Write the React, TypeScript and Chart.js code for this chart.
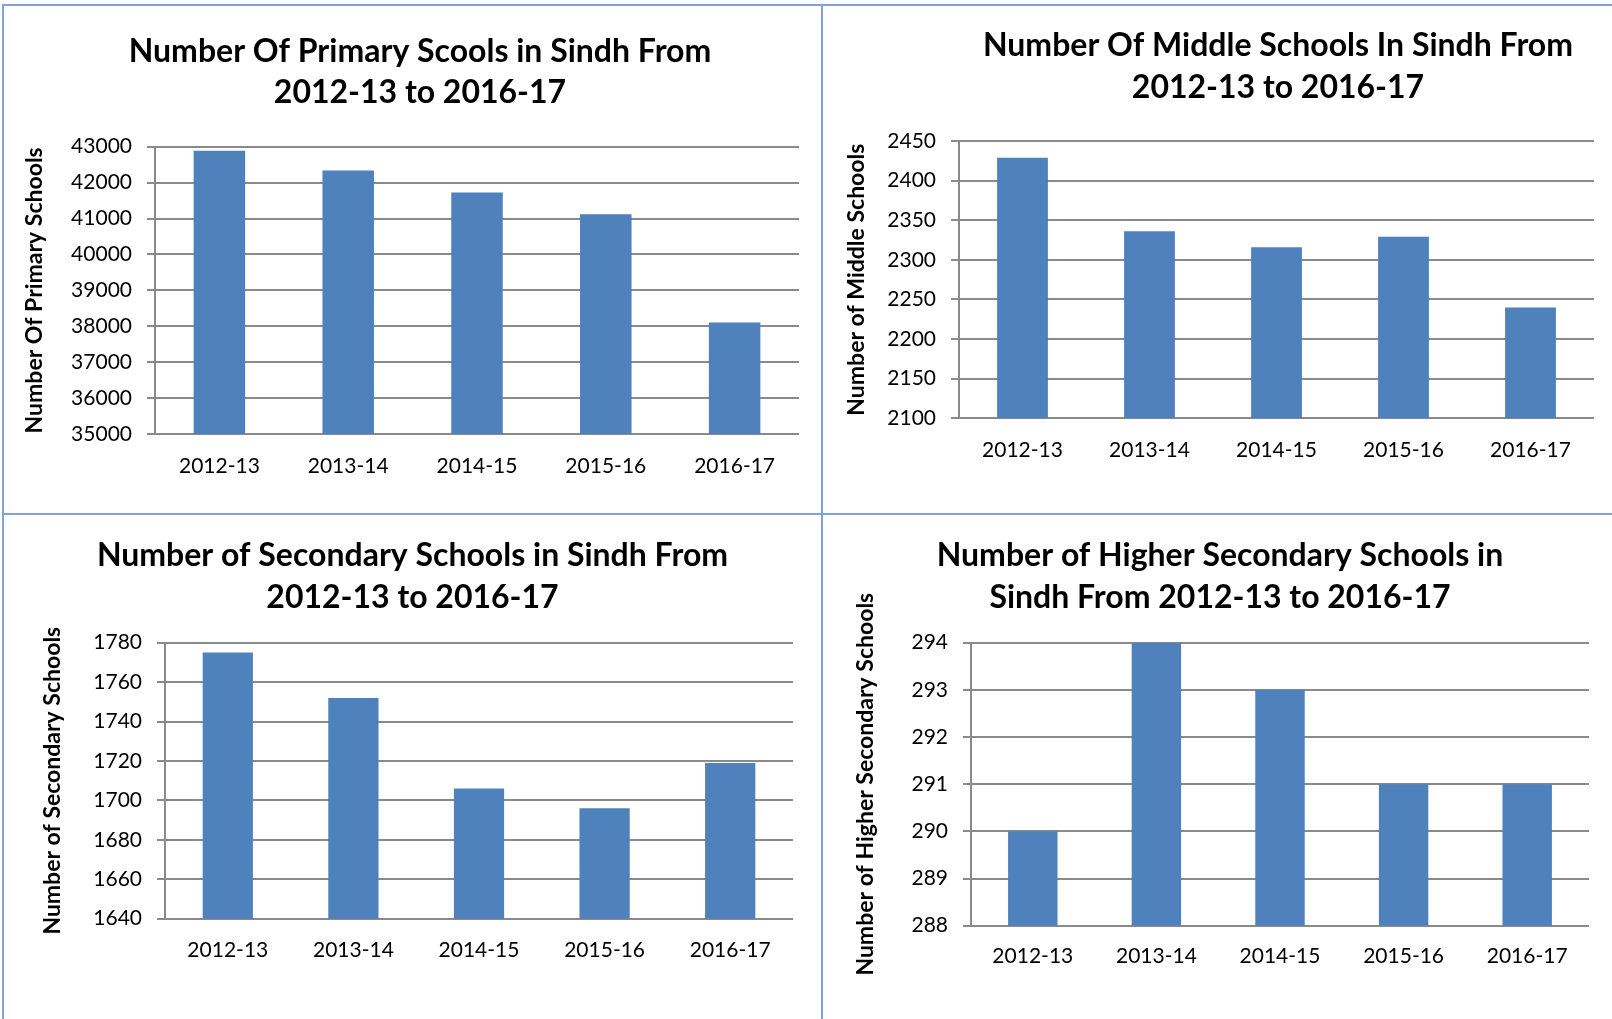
import React, { useEffect, useRef } from 'react';
import { Chart, registerables } from 'chart.js';

Chart.register(...registerables);

// ---------- data ----------
const categories = ['2012-13', '2013-14', '2014-15', '2015-16', '2016-17'];

const primaryValues = [42890, 42335, 41722, 41122, 38108];
const middleValues = [2429, 2336, 2316, 2329, 2240];
const secondaryValues = [1775, 1752, 1706, 1696, 1719];
const higherSecondaryValues = [290, 294, 293, 291, 291];

const primaryTitle = ['Number Of Primary Scools in Sindh From', '2012-13 to 2016-17'];
const middleTitle = ['Number Of Middle Schools In Sindh From', '2012-13 to 2016-17'];
const secondaryTitle = ['Number of Secondary Schools in Sindh From', '2012-13 to 2016-17'];
const higherSecondaryTitle = ['Number of Higher Secondary Schools in', 'Sindh From 2012-13 to 2016-17'];

const primaryAxisTitle = 'Number Of Primary Schools';
const middleAxisTitle = 'Number of Middle Schools';
const secondaryAxisTitle = 'Number of Secondary Schools';
const higherSecondaryAxisTitle = 'Number of Higher Secondary Schools';

// [min, max, step]
const primaryRange = [35000, 43000, 1000];
const middleRange = [2100, 2450, 50];
const secondaryRange = [1640, 1780, 20];
const higherSecondaryRange = [288, 294, 1];

// ---------- styles ----------
const BAR = '#4F81BD';
const GRID = '#8a8a8a';
const FRAME = '#7fa3d7';
const FONT = 'Lato';

const shiftTitle = {
  id: 'shiftTitle',
  afterLayout(chart: any, _args: any, opts: any) {
    const tb = chart.titleBlock;
    if (tb && opts && typeof opts.center === 'number') {
      tb.left = opts.center - 380;
      tb.right = opts.center + 380;
    }
  },
};

type PanelLayout = {
  left: number;
  top: number;
  width: number;
  height: number;
  yWidth: number;
  xHeight: number;
  titleCenter: number;
  titlePadTop: number;
  titlePadBottom: number;
  xPad: number;
};

function Panel(props: {
  layout: PanelLayout;
  title: string[];
  axisTitle: string;
  values: number[];
  range: number[];
}) {
  const ref = useRef<HTMLCanvasElement | null>(null);
  const { layout, title, axisTitle, values, range } = props;

  useEffect(() => {
    if (!ref.current) return;
    const chart = new Chart(ref.current, {
      type: 'bar',
      data: {
        labels: categories,
        datasets: [
          {
            data: values,
            backgroundColor: BAR,
            borderWidth: 0,
            barPercentage: 0.4,
            categoryPercentage: 1,
          },
        ],
      },
      plugins: [shiftTitle],
      options: {
        responsive: false,
        animation: false,
        devicePixelRatio: 1,
        layout: { padding: 0 },
        plugins: {
          legend: { display: false },
          tooltip: { enabled: false },
          title: {
            display: true,
            text: title,
            color: '#000',
            font: { family: FONT, size: 32, weight: 'bold', lineHeight: '41.5px' },
            padding: { top: layout.titlePadTop, bottom: layout.titlePadBottom },
          },
          shiftTitle: { center: layout.titleCenter },
        } as any,
        scales: {
          x: {
            grid: { display: false, drawTicks: false },
            border: { display: true, color: GRID, width: 2 },
            ticks: {
              color: '#000',
              font: { family: FONT, size: 21 },
              padding: layout.xPad,
              maxRotation: 0,
            },
            afterFit: (s: any) => {
              s.height = layout.xHeight;
            },
          },
          y: {
            min: range[0],
            max: range[1],
            grid: {
              color: GRID,
              lineWidth: 2,
              drawTicks: true,
              tickLength: 8,
              tickColor: GRID,
              tickWidth: 2,
            },
            border: { display: true, color: GRID, width: 2 },
            ticks: {
              stepSize: range[2],
              color: '#000',
              font: { family: FONT, size: 21 },
              padding: 15,
              callback: (v: any) => String(v),
            },
            title: {
              display: true,
              text: axisTitle,
              color: '#000',
              font: { family: FONT, size: 23, weight: 'bold' },
              padding: 0,
            },
            afterFit: (s: any) => {
              s.width = layout.yWidth;
            },
          },
        },
      } as any,
    });
    return () => chart.destroy();
  }, []);

  return (
    <canvas
      ref={ref}
      width={layout.width}
      height={layout.height}
      style={{
        position: 'absolute',
        left: layout.left,
        top: layout.top,
        width: layout.width,
        height: layout.height,
      }}
    />
  );
}

const primaryLayout: PanelLayout = {
  left: 21, top: 6, width: 778, height: 494,
  yWidth: 134, xHeight: 66, titleCenter: 399,
  titlePadTop: 24.8, titlePadBottom: 32.9, xPad: 20,
};
const middleLayout: PanelLayout = {
  left: 843, top: 6, width: 751, height: 494,
  yWidth: 116, xHeight: 81.7, titleCenter: 435,
  titlePadTop: 19.1, titlePadBottom: 32.9, xPad: 19,
};
const secondaryLayout: PanelLayout = {
  left: 39, top: 515, width: 754, height: 495,
  yWidth: 126, xHeight: 91.3, titleCenter: 373.5,
  titlePadTop: 20.3, titlePadBottom: 24.4, xPad: 19,
};
const higherLayout: PanelLayout = {
  left: 852, top: 515, width: 737, height: 495,
  yWidth: 119, xHeight: 84.3, titleCenter: 368,
  titlePadTop: 20.3, titlePadBottom: 24.4, xPad: 18,
};

export default function App() {
  const line = (s: React.CSSProperties) => (
    <div style={{ position: 'absolute', background: FRAME, ...s }} />
  );
  return (
    <div
      style={{
        position: 'absolute',
        left: 0,
        top: 0,
        width: 1612,
        height: 1019,
        overflow: 'hidden',
        background: '#fff',
      }}
    >
      {line({ left: 2, top: 4, width: 1610, height: 2 })}
      {line({ left: 2, top: 513, width: 1610, height: 2 })}
      {line({ left: 2, top: 4, width: 2, height: 1015 })}
      {line({ left: 821, top: 4, width: 2, height: 1015 })}
      <Panel layout={primaryLayout} title={primaryTitle} axisTitle={primaryAxisTitle} values={primaryValues} range={primaryRange} />
      <Panel layout={middleLayout} title={middleTitle} axisTitle={middleAxisTitle} values={middleValues} range={middleRange} />
      <Panel layout={secondaryLayout} title={secondaryTitle} axisTitle={secondaryAxisTitle} values={secondaryValues} range={secondaryRange} />
      <Panel layout={higherLayout} title={higherSecondaryTitle} axisTitle={higherSecondaryAxisTitle} values={higherSecondaryValues} range={higherSecondaryRange} />
    </div>
  );
}
